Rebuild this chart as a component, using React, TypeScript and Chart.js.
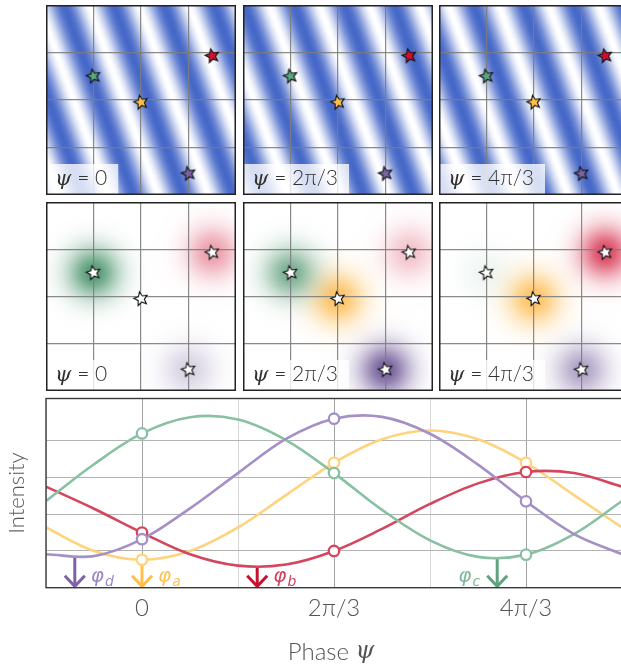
import React, { useEffect, useRef } from "react";
import { Chart, registerables } from "chart.js";
Chart.register(...registerables);

// ---------------- data ----------------
// phase ψ is expressed in units of π/3
const phaseGrid = [-1, -0.5, 0, 0.5, 1, 1.5, 2, 2.5, 3, 3.5, 4, 4.5, 5];
const intensityA = [1.64, 1.0, 0.76, 1.0, 1.64, 2.52, 3.4, 4.04, 4.28, 4.04, 3.4, 2.52, 1.64];
const intensityB = [2.75, 2.15, 1.5, 0.91, 0.6, 0.63, 1.0, 1.6, 2.28, 2.84, 3.15, 3.12, 2.75];
const intensityC = [2.36, 3.36, 4.2, 4.64, 4.58, 4.02, 3.12, 2.12, 1.29, 0.84, 0.9, 1.46, 2.36];
const intensityD = [0.91, 0.86, 1.32, 2.16, 3.12, 4.05, 4.6, 4.65, 4.19, 3.35, 2.35, 1.46, 0.91];
const sampledPhases = [0, 2, 4];
const panelLabels = ["ψ = 0", "ψ = 2π/3", "ψ = 4π/3"];
const xTickValues = [0, 2, 4];
const xTickLabels = ["0", "2π/3", "4π/3"];
const xTitleParts = ["Phase ", "ψ"];
const yTitle = "Intensity";
const emitterNames = ["a", "b", "c", "d"];
const emitterX = [2.0, 3.5, 1.0, 3.0];
const emitterY = [1.95, 2.93, 2.5, 0.45];
const minPhase = [0.0, 1.2, 3.7, -0.7];
const minIntensity = [0.76, 0.57, 0.8, 0.82];
const labelSide = [1, 1, -1, 1];
// illumination stripes (cycles per grid unit)
const stripeFreqX = 0.95;
const stripeFreqY = 0.346;
const stripeOffset = 0.255;

// ---------------- styles ----------------
const lineColors = ["#ffd27c", "#d6455f", "#88c1a1", "#a590c5"];
const arrowColors = ["#ffc04a", "#c8102e", "#5fa37e", "#7d62a8"];
const phiColors = ["#ffc350", "#d0405c", "#7cb896", "#9c87c4"];
const starColors = ["#ffc04a", "#d20f30", "#5ba57f", "#7a62a4"];
const blobColors = [
  [255, 172, 40],
  [214, 45, 75],
  [45, 130, 85],
  [95, 70, 140],
];
const FONT = "Lato, 'Open Sans', sans-serif";

const series = [intensityA, intensityB, intensityC, intensityD];

function makeStar(fill: string, stroke: string) {
  const size = 22;
  const r = 7.2;
  const c = document.createElement("canvas");
  c.width = size;
  c.height = size;
  const ctx = c.getContext("2d")!;
  ctx.translate(size / 2, size / 2);
  ctx.rotate(-0.22);
  ctx.beginPath();
  for (let i = 0; i < 10; i++) {
    const rr = i % 2 === 0 ? r : r * 0.46;
    const a = -Math.PI / 2 + (i * Math.PI) / 5;
    const px = rr * Math.cos(a);
    const py = rr * Math.sin(a);
    if (i === 0) ctx.moveTo(px, py);
    else ctx.lineTo(px, py);
  }
  ctx.closePath();
  ctx.fillStyle = fill;
  ctx.fill();
  ctx.lineWidth = 1.1;
  ctx.strokeStyle = stroke;
  ctx.stroke();
  return c;
}

function strengthAt(j: number, phase: number) {
  const s = series[j];
  const v = s[phaseGrid.indexOf(phase)];
  const mn = Math.min(...s);
  const mx = Math.max(...s);
  return (v - mn) / (mx - mn);
}

function buildPanel(canvas: HTMLCanvasElement, row: number, col: number) {
  const phase = sampledPhases[col];
  const psi = (phase * Math.PI) / 3;
  const stars = emitterX.map((_, j) =>
    row === 0 ? makeStar(starColors[j], "#111") : makeStar("#ffffff", "#111")
  );
  const bgPlugin = {
    id: "bg" + row + col,
    beforeDraw(chart: any) {
      const { ctx, chartArea: a, scales } = chart;
      const w = Math.round(a.right - a.left);
      const h = Math.round(a.bottom - a.top);
      const off = document.createElement("canvas");
      off.width = w;
      off.height = h;
      const octx = off.getContext("2d")!;
      const img = octx.createImageData(w, h);
      const sigma = 0.38;
      const strengths = emitterX.map((_, j) => Math.pow(Math.max(0, strengthAt(j, phase)), 0.6));
      for (let yy = 0; yy < h; yy++) {
        const yv = scales.y.getValueForPixel(a.top + yy + 0.5);
        for (let xx = 0; xx < w; xx++) {
          const xv = scales.x.getValueForPixel(a.left + xx + 0.5);
          let r = 255, g = 255, b = 255;
          if (row === 0) {
            const p0 = 0.5 + 0.5 * Math.cos(2 * Math.PI * (stripeFreqX * xv + stripeFreqY * yv + stripeOffset) + psi);
            const p = Math.pow(p0, 0.9);
            r = 255 + (70 - 255) * p;
            g = 255 + (104 - 255) * p;
            b = 255 + (200 - 255) * p;
          } else {
            for (let j = 0; j < emitterX.length; j++) {
              const dx = xv - emitterX[j];
              const dy = yv - emitterY[j];
              const al = 0.88 * strengths[j] * Math.exp(-(dx * dx + dy * dy) / (2 * sigma * sigma));
              const c = blobColors[j];
              r = r * (1 - al) + c[0] * al;
              g = g * (1 - al) + c[1] * al;
              b = b * (1 - al) + c[2] * al;
            }
          }
          const k = (yy * w + xx) * 4;
          img.data[k] = r;
          img.data[k + 1] = g;
          img.data[k + 2] = b;
          img.data[k + 3] = 255;
        }
      }
      octx.putImageData(img, 0, 0);
      ctx.drawImage(off, a.left, a.top);
    },
    afterDraw(chart: any) {
      const { ctx, chartArea: a } = chart;
      const label = panelLabels[col];
      ctx.save();
      const rest = label.slice(1);
      ctx.font = `italic 21px 'DejaVu Serif', serif`;
      const wPsi = ctx.measureText("ψ").width;
      ctx.font = `300 21px ${FONT}`;
      const wRest = ctx.measureText(rest).width;
      const boxW = wPsi + wRest + 20;
      ctx.fillStyle = "rgba(255,255,255,0.78)";
      ctx.fillRect(a.left, a.bottom - 31, boxW, 31);
      ctx.fillStyle = "#333";
      ctx.textBaseline = "alphabetic";
      ctx.font = `italic 21px 'DejaVu Serif', serif`;
      ctx.fillText("ψ", a.left + 9, a.bottom - 10);
      ctx.font = `300 21px ${FONT}`;
      ctx.fillText(rest, a.left + 9 + wPsi, a.bottom - 10);
      ctx.strokeStyle = "#222";
      ctx.lineWidth = 1.5;
      ctx.strokeRect(a.left + 0.75, a.top + 0.75, a.right - a.left - 1.5, a.bottom - a.top - 1.5);
      ctx.restore();
    },
  };
  const axis = (isX: boolean) => ({
    type: "linear" as const,
    min: 0,
    max: 4,
    ticks: { display: false, stepSize: 1 },
    grid: { color: "rgba(125,125,125,0.9)", lineWidth: 1.2, drawTicks: false },
    border: { display: false },
    afterFit(scale: any) {
      if (isX) scale.height = 0;
      else scale.width = 0;
    },
  });
  return new Chart(canvas, {
    type: "scatter",
    data: {
      datasets: [
        {
          data: emitterX.map((x, j) => ({ x, y: emitterY[j] })),
          pointStyle: stars as any,
          pointRadius: 8,
          pointHoverRadius: 8,
        },
      ],
    },
    options: {
      responsive: false,
      animation: false,
      events: [],
      layout: { padding: 0, autoPadding: false },
      plugins: { legend: { display: false }, tooltip: { enabled: false } },
      scales: { x: axis(true), y: axis(false) } as any,
    },
    plugins: [bgPlugin],
  });
}

function buildIntensity(canvas: HTMLCanvasElement) {
  const order = [3, 2, 1, 0];
  const datasets: any[] = [];
  for (const j of order) {
    datasets.push({
      type: "scatter",
      data: sampledPhases.map((p) => ({ x: p, y: series[j][phaseGrid.indexOf(p)] })),
      pointRadius: 5.2,
      pointHoverRadius: 5.2,
      borderWidth: 2.3,
      borderColor: lineColors[j],
      backgroundColor: "#ffffff",
      showLine: false,
    });
  }
  for (const j of order) {
    datasets.push({
      type: "line",
      data: phaseGrid.map((p, i) => ({ x: p, y: series[j][i] })),
      borderColor: lineColors[j],
      borderWidth: 2.6,
      pointRadius: 0,
      tension: 0.35,
      fill: false,
    });
  }
  const arrowPlugin = {
    id: "arrows",
    beforeDatasetsDraw(chart: any) {
      const { ctx, chartArea: a, scales } = chart;
      ctx.save();
      for (let j = 0; j < emitterNames.length; j++) {
        const x = scales.x.getPixelForValue(minPhase[j]);
        const yTop = scales.y.getPixelForValue(minIntensity[j]);
        const yBot = a.bottom - 1.5;
        ctx.strokeStyle = arrowColors[j];
        ctx.lineWidth = 3;
        ctx.lineJoin = "miter";
        ctx.beginPath();
        ctx.moveTo(x, yTop);
        ctx.lineTo(x, yBot);
        ctx.stroke();
        ctx.beginPath();
        ctx.moveTo(x - 10, yBot - 10.5);
        ctx.lineTo(x, yBot);
        ctx.lineTo(x + 10, yBot - 10.5);
        ctx.stroke();
        // φ label
        ctx.fillStyle = phiColors[j];
        ctx.textBaseline = "alphabetic";
        ctx.font = `italic 20px 'DejaVu Sans', sans-serif`;
        const wPhi = ctx.measureText("φ").width;
        ctx.font = `italic 14px 'DejaVu Sans', sans-serif`;
        const wSub = ctx.measureText(emitterNames[j]).width;
        const total = wPhi + wSub + 1;
        const x0 = labelSide[j] > 0 ? x + 16 : x - 17 - total;
        ctx.font = `italic 20px 'DejaVu Sans', sans-serif`;
        ctx.fillText("φ", x0, a.bottom - 6);
        ctx.font = `italic 14px 'DejaVu Sans', sans-serif`;
        ctx.fillText(emitterNames[j], x0 + wPhi + 1, a.bottom - 2);
      }
      ctx.restore();
    },
    afterDraw(chart: any) {
      const { ctx, chartArea: a } = chart;
      ctx.save();
      ctx.strokeStyle = "#3a3a3a";
      ctx.lineWidth = 1.4;
      ctx.strokeRect(a.left, a.top, a.right - a.left + 5, a.bottom - a.top);
      // x-axis title with italic ψ
      ctx.fillStyle = "#555";
      ctx.textBaseline = "middle";
      ctx.font = `300 24px ${FONT}`;
      const w1 = ctx.measureText(xTitleParts[0]).width;
      ctx.font = `italic 24px 'DejaVu Serif', serif`;
      const w2 = ctx.measureText(xTitleParts[1]).width;
      const cx = (a.left + 628) / 2 - 6;
      const x0 = cx - (w1 + w2) / 2;
      const yc = chart.height - 16;
      ctx.font = `300 24px ${FONT}`;
      ctx.fillText(xTitleParts[0], x0, yc);
      ctx.font = `italic 24px 'DejaVu Serif', serif`;
      ctx.fillText(xTitleParts[1], x0 + w1, yc);
      ctx.restore();
    },
  };
  return new Chart(canvas, {
    type: "line",
    data: { datasets },
    options: {
      responsive: false,
      animation: false,
      events: [],
      layout: { padding: { top: 8.5, right: 0, bottom: 0, left: 0 }, autoPadding: false },
      plugins: { legend: { display: false }, tooltip: { enabled: false } },
      scales: {
        x: {
          type: "linear",
          min: -1,
          max: 5,
          ticks: {
            stepSize: 1,
            autoSkip: false,
            maxRotation: 0,
            padding: 6,
            color: "#555",
            font: { family: FONT, size: 24, weight: 300 as any },
            callback: (v: any) => {
              const i = xTickValues.indexOf(Number(v));
              return i >= 0 ? xTickLabels[i] : "";
            },
          },
          grid: {
            drawTicks: false,
            lineWidth: 1,
            color: (c: any) => (xTickValues.indexOf(c.tick?.value) >= 0 ? "#a3a3a3" : "#d6d6d6"),
          },
          border: { display: false },
          title: { display: false },
          afterFit(scale: any) {
            scale.height = 80.3;
          },
        },
        y: {
          type: "linear",
          min: 0,
          max: 5.15,
          ticks: { display: false, stepSize: 1 },
          grid: { drawTicks: false, color: "#b3b3b3", lineWidth: 1 },
          border: { display: false },
          title: {
            display: true,
            text: yTitle,
            color: "#555",
            font: { family: FONT, size: 22, weight: 300 as any },
            padding: { top: 4, bottom: 0 },
          },
          afterFit(scale: any) {
            scale.width = 46;
          },
        },
      } as any,
    },
    plugins: [arrowPlugin],
  });
}

function ChartCanvas(props: {
  left: number;
  top: number;
  width: number;
  height: number;
  build: (c: HTMLCanvasElement) => Chart;
}) {
  const ref = useRef<HTMLCanvasElement>(null);
  useEffect(() => {
    const chart = props.build(ref.current!);
    return () => chart.destroy();
  }, []);
  return (
    <canvas
      ref={ref}
      width={props.width}
      height={props.height}
      style={{
        position: "absolute",
        left: props.left,
        top: props.top,
        width: props.width,
        height: props.height,
        display: "block",
      }}
    />
  );
}

const colLefts = [46, 242.5, 439];
const rowTops = [5, 202];
const rowHeights = [190, 189];

export default function App() {
  const panels = [];
  for (let r = 0; r < 2; r++) {
    for (let c = 0; c < 3; c++) {
      panels.push(
        <ChartCanvas
          key={`p${r}${c}`}
          left={colLefts[c]}
          top={rowTops[r]}
          width={190}
          height={rowHeights[r]}
          build={(cv) => buildPanel(cv, r, c)}
        />
      );
    }
  }
  return (
    <div
      style={{
        position: "fixed",
        left: 0,
        top: 0,
        width: 621,
        height: 668,
        overflow: "hidden",
        background: "#fff",
      }}
    >
      {panels}
      <ChartCanvas left={0} top={390} width={628} height={278} build={buildIntensity} />
    </div>
  );
}
